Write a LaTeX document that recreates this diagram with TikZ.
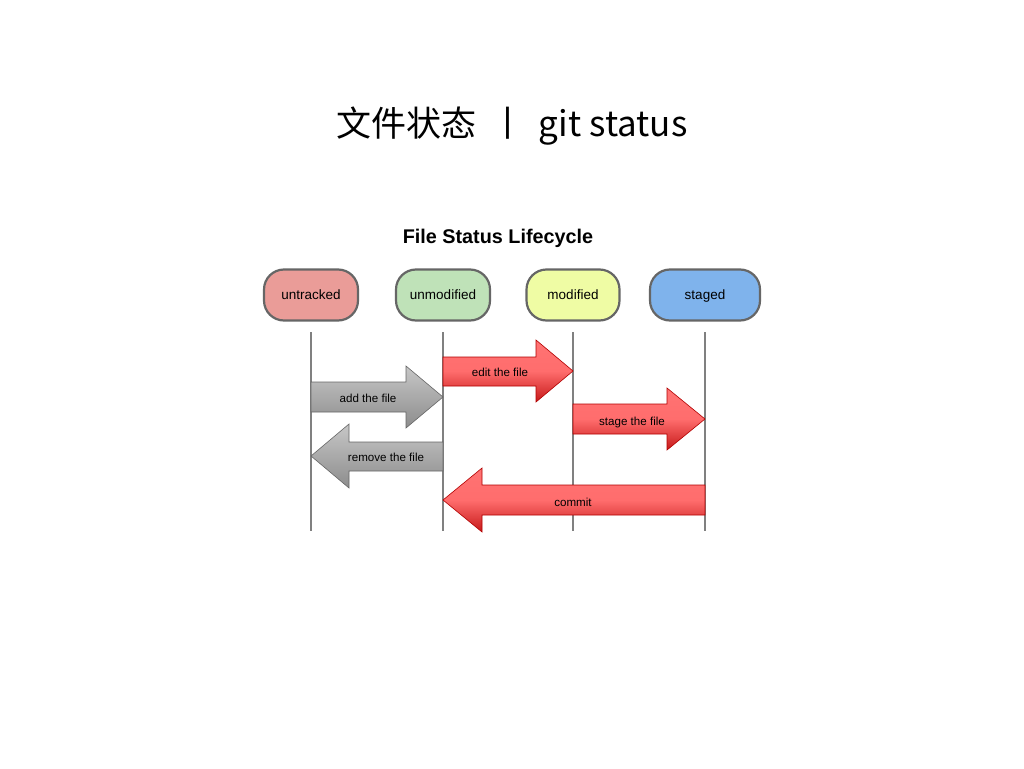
\documentclass[tikz,border=0pt]{standalone}
\usepackage{fontspec}
\setmainfont{Liberation Sans}
\newfontfamily\cjk{Noto Sans CJK SC}
\begin{document}
\begin{tikzpicture}[x=1pt,y=-1pt,
  state/.style={draw=black!60, line width=2.2pt, rounded corners=20pt, minimum height=51pt, inner sep=0pt, text height=9.8pt, text depth=0pt, font=\fontsize{13.5}{15}\selectfont},
  life/.style={draw=black!50, line width=1.8pt},
  redarrow/.style={top color=red!50!white!90!red, bottom color=red!75!black!90, middle color=red!55!white!95!red, draw=red!70!black, line width=0.6pt},
  grayarrow/.style={top color=black!22, bottom color=black!45, draw=black!60, line width=0.6pt},
  lbl/.style={font=\fontsize{11.6}{13}\selectfont, inner sep=0pt, text height=8.4pt, text depth=0pt}
]
\useasboundingbox[fill=white] (0,0) rectangle (1024,768);
\node[font=\cjk\fontsize{35}{40}\selectfont] (title) at (512,126) {文件状态 \,丨\, git status};
\node[font=\bfseries\fontsize{19.8}{22}\selectfont] (sub) at (498,238) {File Status Lifecycle};

\node[state, fill={rgb,255:red,234;green,156;blue,152}, minimum width=94pt] (untracked) at (311,295) {untracked};
\node[state, fill={rgb,255:red,191;green,226;blue,184}, minimum width=94pt] (unmodified) at (443,295) {unmodified};
\node[state, fill={rgb,255:red,239;green,252;blue,164}, minimum width=93pt] (modified) at (573,295) {modified};
\node[state, fill={rgb,255:red,127;green,179;blue,236}, minimum width=110pt] (staged) at (705,295) {staged};

\coordinate (u1) at (311,332); \coordinate (u2) at (311,531);
\coordinate (m1) at (443,332); \coordinate (m2) at (443,531);
\coordinate (d1) at (573,332); \coordinate (d2) at (573,531);
\coordinate (s1) at (705,332); \coordinate (s2) at (705,531);
\draw[life] (u1) -- (u2);
\draw[life] (m1) -- (m2);
\draw[life] (d1) -- (d2);
\draw[life] (s1) -- (s2);

% edit the file
\shade[redarrow] (443,357) -- (536,357) -- (536,340) -- (573,371) -- (536,402) -- (536,386) -- (443,386) -- cycle;
\node[lbl] (edit) at (500,372) {edit the file};
% stage the file
\shade[redarrow] (573,404) -- (667,404) -- (667,388) -- (705,419) -- (667,450) -- (667,434) -- (573,434) -- cycle;
\node[lbl] (stage) at (632,421) {stage the file};
% commit
\shade[redarrow] (705,485) -- (482,485) -- (482,468) -- (443,500) -- (482,532) -- (482,515) -- (705,515) -- cycle;
\node[lbl] (commit) at (573,502) {commit};
% add the file
\shade[grayarrow] (311,382) -- (406,382) -- (406,366) -- (443,397) -- (406,428) -- (406,412) -- (311,412) -- cycle;
\node[lbl] (add) at (368,398) {add the file};
% remove the file
\shade[grayarrow] (443,442) -- (349,442) -- (349,424) -- (311,456) -- (349,488) -- (349,471) -- (443,471) -- cycle;
\node[lbl] (remove) at (386,457) {remove the file};
\end{tikzpicture}
\end{document}
